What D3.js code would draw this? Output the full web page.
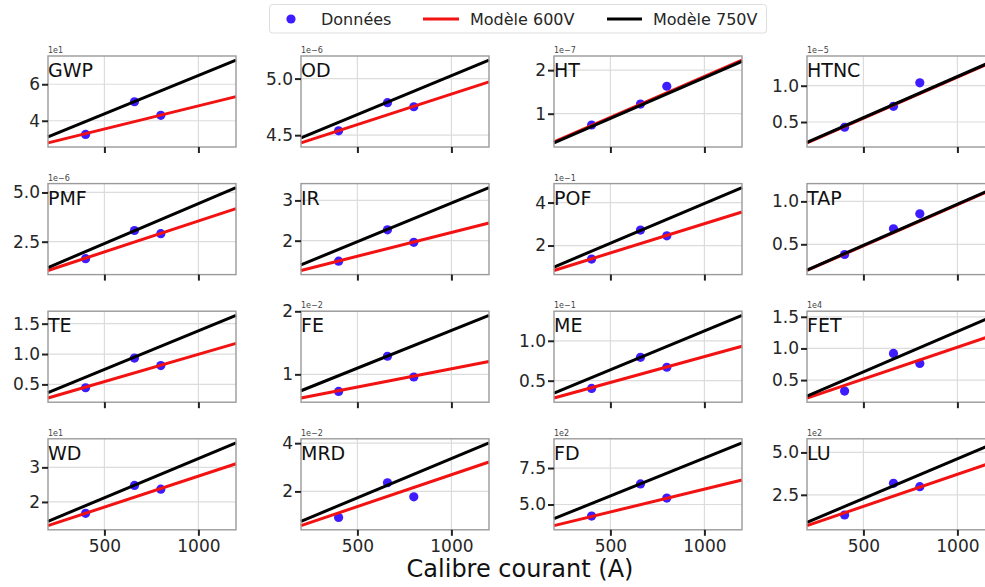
<!DOCTYPE html>
<html>
<head>
<meta charset="utf-8">
<script src="https://cdnjs.cloudflare.com/ajax/libs/d3/7.8.5/d3.min.js"></script>
<style>
  body { margin: 0; background: #fff; }
  svg { display: block; font-family: "DejaVu Sans", sans-serif; }
</style>
</head>
<body>
<svg></svg>
<script>
// categories
let panels = ["GWP", "OD", "HT", "HTNC", "PMF", "IR", "POF", "TAP",
  "TE", "FE", "ME", "FET", "WD", "MRD", "FD", "LU"];
let exponents = ["1e1", "1e\u22126", "1e\u22127", "1e\u22125", "1e\u22126", "", "1e\u22121", "",
  "", "1e\u22122", "1e\u22121", "1e4", "1e1", "1e\u22122", "1e2", "1e2"];
// x values
let currents = [400, 660, 800];
let modelX = [200, 1200];
let xTicks = [500, 1000];
// series values (in units of the panel exponent)
let measured = [
  [3.25, 5.04, 4.3], [4.538, 4.787, 4.751], [0.74, 1.22, 1.63], [0.428, 0.716, 1.04],
  [1.64, 3.07, 2.91], [1.49, 2.27, 1.96], [1.37, 2.72, 2.45], [0.381, 0.681, 0.855],
  [0.445, 0.934, 0.81], [0.729, 1.287, 0.958], [0.403, 0.793, 0.668], [0.326, 0.921, 0.763],
  [1.67, 2.477, 2.37], [0.92, 2.36, 1.775], [4.21, 6.41, 5.44], [1.31, 3.18, 2.98]
];
let model600 = [
  [2.79, 5.32], [4.432, 4.971], [0.35, 2.23], [0.213, 1.343],
  [1.04, 4.18], [1.26, 2.44], [0.84, 3.56], [0.195, 1.152],
  [0.275, 1.175], [0.624, 1.203], [0.282, 0.932], [0.216, 1.219],
  [1.314, 3.105], [0.58, 3.22], [3.55, 6.68], [0.68, 4.47]
];
let model750 = [
  [3.12, 7.32], [4.476, 5.163], [0.33, 2.2], [0.22, 1.352],
  [1.19, 5.24], [1.4, 3.315], [1.0, 4.69], [0.2, 1.159],
  [0.363, 1.637], [0.74, 1.936], [0.345, 1.319], [0.247, 1.523],
  [1.44, 3.706], [0.76, 4.01], [4.03, 9.22], [0.875, 5.56]
];
// tick labels
let yTicks = [
  [4, 6], [4.5, 5.0], [1, 2], [0.5, 1.0],
  [2.5, 5.0], [2, 3], [2, 4], [0.5, 1.0],
  [0.5, 1.0, 1.5], [1, 2], [0.5, 1.0], [0.5, 1.0, 1.5],
  [2, 3], [2, 4], [5.0, 7.5], [2.5, 5.0]
];
let yDecimals = [0, 1, 0, 1, 1, 0, 0, 1, 1, 0, 1, 1, 0, 0, 1, 1];
let legendLabels = ["Donn\u00e9es", "Mod\u00e8le 600V", "Mod\u00e8le 750V"];

//
let w = 985;
let h = 587;
let left0 = 48;
let colStep = 253;
let top0 = 56;
let rowStep = 127.6;
let pw = 188;
let ph = 91;
let blue = "#3d1cff";
let red = "#f21212";
let textColor = "#262626";

let svg = d3.select("svg").attr("width", w).attr("height", h);

let drawPanel = (i) => {
  let col = i % 4;
  let row = Math.floor(i / 4);
  let x0 = left0 + col * colStep;
  let y0 = top0 + row * rowStep;

  let all = measured[i].concat(model600[i], model750[i]);
  let lo = d3.min(all);
  let hi = d3.max(all);
  let pad = (hi - lo) * 0.05;

  let xScale = d3.scaleLinear().domain(modelX).range([0, pw]);
  let yScale = d3.scaleLinear().domain([lo - pad, hi + pad]).range([ph, 0]);

  let g = svg.append("g").attr("transform", `translate(${x0}, ${y0})`);

  // grid
  g.append("g")
    .selectAll("line.gx")
    .data(xTicks)
    .enter()
    .append("line")
    .attr("x1", (d) => xScale(d))
    .attr("x2", (d) => xScale(d))
    .attr("y1", 0)
    .attr("y2", ph)
    .attr("stroke", "#dcdcdc")
    .attr("stroke-width", 1.2);
  g.append("g")
    .selectAll("line.gy")
    .data(yTicks[i])
    .enter()
    .append("line")
    .attr("x1", 0)
    .attr("x2", pw)
    .attr("y1", (d) => yScale(d))
    .attr("y2", (d) => yScale(d))
    .attr("stroke", "#dcdcdc")
    .attr("stroke-width", 1.2);

  // points (under the lines)
  g.selectAll("circle")
    .data(measured[i])
    .enter()
    .append("circle")
    .attr("cx", (d, k) => xScale(currents[k]))
    .attr("cy", (d) => yScale(d))
    .attr("r", 4.6)
    .attr("fill", blue);

  let line = d3.line()
    .x((d, k) => xScale(modelX[k]))
    .y((d) => yScale(d));
  g.append("path")
    .attr("d", line(model600[i]))
    .attr("stroke", red)
    .attr("stroke-width", 3)
    .attr("fill", "none");
  g.append("path")
    .attr("d", line(model750[i]))
    .attr("stroke", "#000")
    .attr("stroke-width", 3)
    .attr("fill", "none");

  // frame
  g.append("rect")
    .attr("width", pw)
    .attr("height", ph)
    .attr("fill", "none")
    .attr("stroke", "#9a9a9a")
    .attr("stroke-width", 1.4);

  // axes
  let fmt = d3.format(`.${yDecimals[i]}f`);
  let yAxis = d3.axisLeft(yScale).tickValues(yTicks[i]).tickFormat(fmt)
    .tickSizeInner(6).tickSizeOuter(0).tickPadding(2);
  let ya = g.append("g").call(yAxis);
  ya.select(".domain").remove();
  ya.selectAll("line").attr("stroke", "#222").attr("stroke-width", 2);
  ya.selectAll("text")
    .attr("fill", textColor)
    .style("font-size", "17px")
    .style("font-family", "DejaVu Sans");

  let xAxis = d3.axisBottom(xScale).tickValues(xTicks)
    .tickSizeInner(6).tickSizeOuter(0).tickPadding(4)
    .tickFormat(row === 3 ? d3.format("d") : () => "");
  let xa = g.append("g").attr("transform", `translate(0, ${ph})`).call(xAxis);
  xa.select(".domain").remove();
  xa.selectAll("line").attr("stroke", "#222").attr("stroke-width", 2);
  xa.selectAll("text")
    .attr("fill", textColor)
    .style("font-size", "17px")
    .style("font-family", "DejaVu Sans");

  // title + offset text
  g.append("text")
    .attr("x", 0)
    .attr("y", 21)
    .attr("fill", "#111")
    .style("font-size", "19px")
    .text(panels[i]);
  if (exponents[i]) {
    g.append("text")
      .attr("x", 0)
      .attr("y", -3)
      .attr("fill", "#444")
      .style("font-size", "8px")
      .text(exponents[i]);
  }
};

let drawLegend = () => {
  let lg = svg.append("g");
  lg.append("rect")
    .attr("x", 269.5)
    .attr("y", 4.5)
    .attr("width", 497)
    .attr("height", 28.5)
    .attr("rx", 3)
    .attr("fill", "#fff")
    .attr("stroke", "#dedede")
    .attr("stroke-width", 1);
  lg.append("circle").attr("cx", 291).attr("cy", 19).attr("r", 4.6).attr("fill", blue);
  lg.append("line").attr("x1", 423).attr("x2", 459).attr("y1", 19).attr("y2", 19)
    .attr("stroke", red).attr("stroke-width", 3);
  lg.append("line").attr("x1", 607).attr("x2", 642).attr("y1", 19).attr("y2", 19)
    .attr("stroke", "#000").attr("stroke-width", 3);
  let tx = [321, 470, 653];
  lg.selectAll("text")
    .data(legendLabels)
    .enter()
    .append("text")
    .attr("x", (d, k) => tx[k])
    .attr("y", 25)
    .attr("fill", textColor)
    .style("font-size", "16px")
    .text((d) => d);
};

d3.range(panels.length).forEach(drawPanel);
drawLegend();

svg.append("text")
  .attr("x", 520)
  .attr("y", 577)
  .attr("text-anchor", "middle")
  .attr("fill", "#111")
  .style("font-size", "24px")
  .text("Calibre courant (A)");
</script>
</body>
</html>
